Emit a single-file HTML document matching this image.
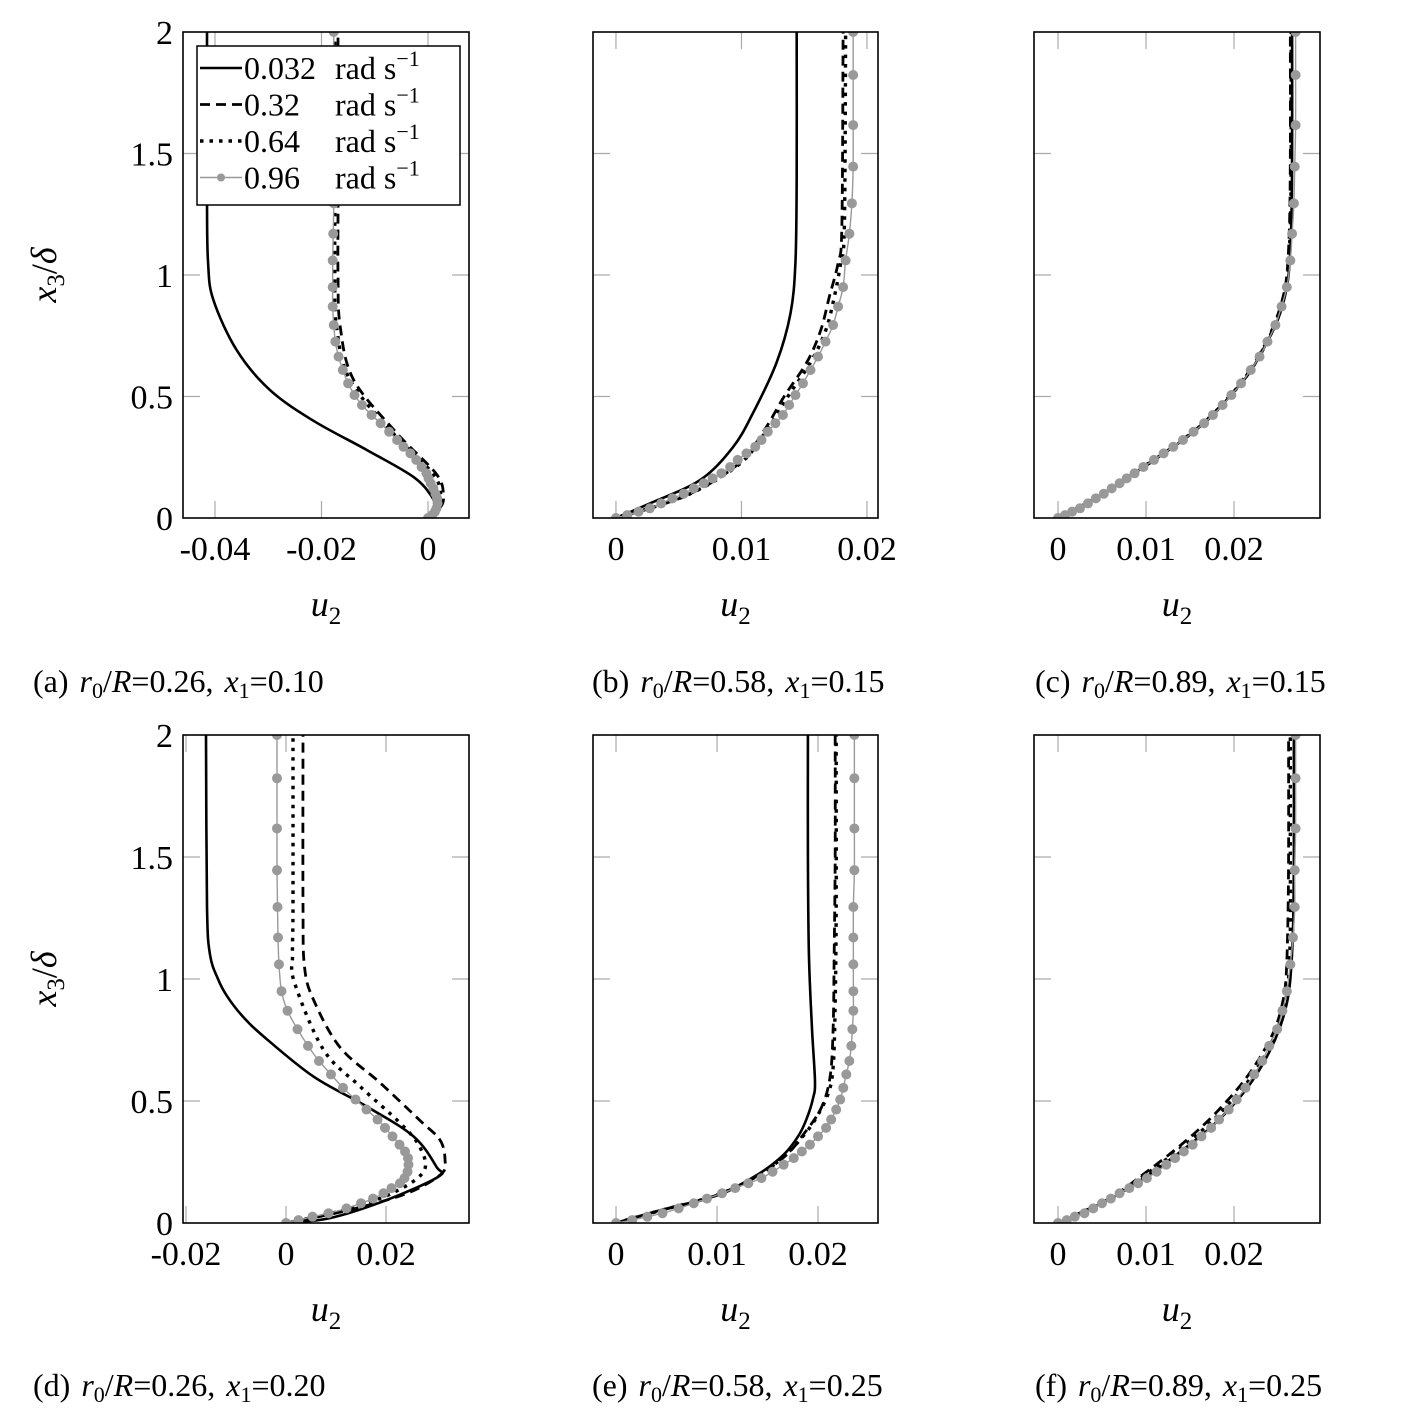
<!DOCTYPE html>
<html><head><meta charset="utf-8"><style>
html,body{margin:0;padding:0;background:#fff;}
svg{display:block;font-family:"Liberation Serif","DejaVu Serif",serif;}
</style></head><body>
<svg id="fig" width="1422" height="1422" viewBox="0 0 1422 1422" xmlns="http://www.w3.org/2000/svg"></svg>
<script>
// ---------- DATA ----------
const grayX3 = [0,0.012,0.026,0.04,0.06,0.081,0.10,0.122,0.143,0.163,0.184,0.21,0.239,0.266,0.293,0.321,0.355,0.39,0.424,0.465,0.506,0.554,0.609,0.664,0.726,0.794,0.87,0.95,1.06,1.17,1.295,1.446,1.617,1.823,2.0];

const aSolidX3 = [0,0.04,0.088,0.17,0.28,0.4,0.527,0.69,0.897,1.05,1.3,2];
const aSolidU  = [0,0.0012,0.0007,-0.0028,-0.0115,-0.0215,-0.0297,-0.0359,-0.0403,-0.0413,-0.0415,-0.0415];
const aDashX3  = [0,0.04,0.088,0.18,0.35,0.57,0.79,1.0,1.3,2];
const aDashU   = [0,0.0022,0.0029,0.0016,-0.0059,-0.014,-0.0165,-0.0169,-0.0169,-0.0169];
const aDotU    = [0,0.0018,0.0024,0.001,-0.0066,-0.0147,-0.0172,-0.0175,-0.0175,-0.0175];
const aGrayU   = [0,0.0008,0.0013,0.0016,0.0018,0.0017,0.0014,0.001,0.0005,0.0001,-0.0003,-0.0012,-0.0022,-0.0033,-0.0046,-0.0058,-0.0073,-0.0089,-0.0106,-0.0124,-0.0138,-0.015,-0.016,-0.0168,-0.0174,-0.0177,-0.0179,-0.0179,-0.0179,-0.0178,-0.0177,-0.0177,-0.0177,-0.0177,-0.0177];

const bSolidX3 = [0,0.06,0.156,0.29,0.43,0.64,0.84,1.05,1.4,2];
const bSolidU  = [0,0.0027,0.0067,0.0093,0.0109,0.0128,0.0139,0.0143,0.0144,0.0144];
const bDashX3  = [0,0.09,0.22,0.36,0.5,0.64,0.77,0.91,1.05,1.2,2];
const bDashU   = [0,0.0055,0.0097,0.0118,0.0134,0.0152,0.0163,0.017,0.0177,0.018,0.0181];
const bDotU    = [0,0.0055,0.0098,0.012,0.0137,0.0155,0.0167,0.0174,0.0179,0.0182,0.0183];
const bGrayU   = [0,0.0009,0.0018,0.0027,0.0036,0.0045,0.0054,0.0062,0.0070,0.0077,0.0084,0.0091,0.0097,0.0104,0.0111,0.0116,0.0121,0.0127,0.0133,0.0138,0.0143,0.0149,0.0155,0.0161,0.0167,0.0173,0.0177,0.0181,0.0183,0.0186,0.0188,0.0189,0.0189,0.0189,0.0189];

const cLineX3  = [0,0.1,0.2,0.3,0.4,0.5,0.6,0.7,0.8,0.9,1.0,1.2,1.5,2];
const cSolidU  = [0,0.0052,0.0093,0.0134,0.0169,0.0195,0.0218,0.0234,0.0248,0.0257,0.0262,0.0265,0.0266,0.0266];
const cDashU   = [0,0.0051,0.0092,0.0133,0.0168,0.0194,0.0216,0.0233,0.0246,0.0255,0.026,0.0263,0.0264,0.0264];
const cDotU    = [0,0.0052,0.0093,0.0134,0.0168,0.0195,0.0217,0.0234,0.0247,0.0256,0.0261,0.0264,0.0265,0.0265];
const cGrayU   = [0,0.0008,0.0016,0.0025,0.0034,0.0043,0.0052,0.0061,0.007,0.0078,0.0087,0.0097,0.0109,0.012,0.0131,0.0142,0.0154,0.0166,0.0176,0.0187,0.0197,0.0208,0.0219,0.0229,0.0238,0.0247,0.0254,0.026,0.0264,0.0266,0.0268,0.0269,0.027,0.027,0.027];

const dSolidX3 = [0,0.02,0.094,0.19,0.23,0.355,0.478,0.6,0.765,0.85,0.93,1.0,1.1,1.3,2];
const dSolidU  = [0,0.0088,0.0201,0.0305,0.0301,0.0255,0.0161,0.0055,-0.0045,-0.0088,-0.0118,-0.0136,-0.0152,-0.0158,-0.016];
const dDashX3  = [0,0.05,0.12,0.2,0.26,0.34,0.42,0.575,0.72,0.915,1.05,1.3,2];
const dDashU   = [0,0.012,0.024,0.031,0.0318,0.0308,0.0268,0.0188,0.0108,0.0055,0.0037,0.0034,0.0034];
const dDotX3   = [0,0.05,0.12,0.21,0.31,0.41,0.56,0.71,0.985,1.1,1.3,2];
const dDotU    = [0,0.011,0.021,0.0275,0.0268,0.0228,0.0148,0.0075,0.0017,0.0013,0.0014,0.0014];
const dGrayU   = [0,0.0025,0.0053,0.0085,0.0121,0.015,0.0174,0.0195,0.0211,0.0228,0.0237,0.0243,0.0245,0.0244,0.0238,0.0227,0.0213,0.0198,0.0183,0.0161,0.0139,0.0114,0.009,0.0066,0.0044,0.0023,0.0003,-0.0009,-0.0014,-0.0016,-0.0017,-0.0018,-0.0018,-0.0018,-0.0018];

const eSolidX3 = [0,0.048,0.115,0.198,0.28,0.36,0.43,0.51,0.58,0.8,1.1,1.5,2];
const eSolidU  = [0,0.004,0.01,0.014,0.0166,0.0181,0.0189,0.0195,0.0197,0.0194,0.0191,0.019,0.019];
const eDashX3  = [0,0.048,0.115,0.198,0.28,0.36,0.47,0.6,0.8,1.1,1.5,2];
const eDashU   = [0,0.0041,0.0101,0.0142,0.0169,0.0185,0.0203,0.0212,0.0215,0.0216,0.0217,0.0217];
const eDotX3   = [0,0.048,0.115,0.198,0.28,0.36,0.43,0.53,0.64,0.9,1.3,2];
const eDotU    = [0,0.0041,0.01,0.0142,0.0168,0.0186,0.0198,0.021,0.0215,0.0217,0.0218,0.0218];
const eGrayU   = [0,0.0016,0.0031,0.0046,0.0062,0.0077,0.009,0.0105,0.0118,0.0131,0.0144,0.0155,0.0166,0.0176,0.0184,0.0192,0.02,0.0208,0.0213,0.0218,0.0222,0.0225,0.0228,0.0231,0.0233,0.0234,0.0235,0.0235,0.0235,0.0235,0.0235,0.0236,0.0236,0.0236,0.0236];

const fLineX3  = [0,0.1,0.2,0.3,0.4,0.5,0.6,0.7,0.8,0.9,1.0,1.2,1.5,2];
const fSolidU  = [0,0.006,0.0104,0.0142,0.0176,0.0203,0.0224,0.024,0.0252,0.026,0.0264,0.0267,0.0268,0.0268];
const fDashU   = [0,0.0058,0.0097,0.0133,0.0165,0.0192,0.0215,0.0233,0.0247,0.0255,0.0259,0.0261,0.0262,0.0262];
const fDotU    = [0,0.0058,0.01,0.0137,0.017,0.0197,0.022,0.0237,0.025,0.0258,0.0262,0.0264,0.0264,0.0264];
const fGrayU   = [0,0.001,0.0019,0.003,0.004,0.005,0.006,0.007,0.0081,0.0091,0.0101,0.0112,0.0123,0.0133,0.0143,0.0153,0.0163,0.0174,0.0183,0.0194,0.0203,0.0213,0.0223,0.0232,0.024,0.0249,0.0255,0.026,0.0264,0.0267,0.0269,0.0269,0.027,0.027,0.027];

const yTicks = [0,0.5,1,1.5,2];
const yTickLabels = ["0","0.5","1","1.5","2"];
const aXTicks = [-0.04,-0.02,0];   const aXLabels = ["-0.04","-0.02","0"];
const bXTicks = [0,0.01,0.02];     const bXLabels = ["0","0.01","0.02"];
const dXTicks = [-0.02,0,0.02];    const dXLabels = ["-0.02","0","0.02"];
const legendLabels = ["0.032","0.32","0.64","0.96"];
const captionParts = [["a","0.26","0.10"],["b","0.58","0.15"],["c","0.89","0.15"],["d","0.26","0.20"],["e","0.58","0.25"],["f","0.89","0.25"]];

// ---------- DRAW ----------
const NS="http://www.w3.org/2000/svg";
const svg=document.getElementById('fig');
function mk(tag,attrs,parent){const e=document.createElementNS(NS,tag);for(const k in attrs)e.setAttribute(k,attrs[k]);(parent||svg).appendChild(e);return e;}

function pathD(pts){
  if(pts.length<2)return "";
  let d="M"+pts[0][0].toFixed(2)+","+pts[0][1].toFixed(2);
  for(let i=0;i<pts.length-1;i++){
    const p0=pts[Math.max(0,i-1)],p1=pts[i],p2=pts[i+1],p3=pts[Math.min(pts.length-1,i+2)];
    const t=0.5/3;
    const c1=[p1[0]+(p2[0]-p0[0])*t,p1[1]+(p2[1]-p0[1])*t];
    const c2=[p2[0]-(p3[0]-p1[0])*t,p2[1]-(p3[1]-p1[1])*t];
    d+=" C"+c1[0].toFixed(2)+","+c1[1].toFixed(2)+" "+c2[0].toFixed(2)+","+c2[1].toFixed(2)+" "+p2[0].toFixed(2)+","+p2[1].toFixed(2);
  }
  return d;
}

const panels=[
 {id:"a",L:183,R:469,T:32,B:518,xmin:-0.04601,xmax:0.0077,ticks:aXTicks,labels:aXLabels,
  series:[[aSolidX3,aSolidU,"solid"],[aDashX3,aDashU,"dash"],[aDashX3,aDotU,"dot"],[grayX3,aGrayU,"gray"]],ylab:true},
 {id:"b",L:593,R:878,T:32,B:518,xmin:-0.00183,xmax:0.02088,ticks:bXTicks,labels:bXLabels,
  series:[[bSolidX3,bSolidU,"solid"],[bDashX3,bDashU,"dash"],[bDashX3,bDotU,"dot"],[grayX3,bGrayU,"gray"]]},
 {id:"c",L:1034,R:1320,T:32,B:518,xmin:-0.00273,xmax:0.02977,ticks:bXTicks,labels:bXLabels,
  series:[[cLineX3,cSolidU,"solid"],[cLineX3,cDashU,"dash"],[cLineX3,cDotU,"dot"],[grayX3,cGrayU,"gray"]]},
 {id:"d",L:183,R:469,T:735,B:1223,xmin:-0.0206,xmax:0.0366,ticks:dXTicks,labels:dXLabels,
  series:[[dSolidX3,dSolidU,"solid"],[dDashX3,dDashU,"dash"],[dDotX3,dDotU,"dot"],[grayX3,dGrayU,"gray"]],ylab:true},
 {id:"e",L:593,R:878,T:735,B:1223,xmin:-0.00228,xmax:0.02594,ticks:bXTicks,labels:bXLabels,
  series:[[eSolidX3,eSolidU,"solid"],[eDashX3,eDashU,"dash"],[eDotX3,eDotU,"dot"],[grayX3,eGrayU,"gray"]]},
 {id:"f",L:1034,R:1320,T:735,B:1223,xmin:-0.00273,xmax:0.02977,ticks:bXTicks,labels:bXLabels,
  series:[[fLineX3,fSolidU,"solid"],[fLineX3,fDashU,"dash"],[fLineX3,fDotU,"dot"],[grayX3,fGrayU,"gray"]]}
];
const styles={
 solid:{stroke:"#000","stroke-width":2.6,fill:"none"},
 dash:{stroke:"#000","stroke-width":2.8,fill:"none","stroke-dasharray":"10 6"},
 dot:{stroke:"#000","stroke-width":3.4,fill:"none","stroke-dasharray":"3.5 6"},
 gray:{stroke:"#999","stroke-width":1.4,fill:"none"}
};
const seriesNames={solid:"0.032",dash:"0.32",dot:"0.64",gray:"0.96"};

panels.forEach((p,pi)=>{
  const g=mk('g',{});
  
  
  const sx=u=>p.L+(u-p.xmin)/(p.xmax-p.xmin)*(p.R-p.L);
  const sy=v=>p.B-v/2*(p.B-p.T);
  const cp=mk('clipPath',{id:'clip'+p.id},g);
  mk('rect',{x:p.L,y:p.T,width:p.R-p.L,height:p.B-p.T},cp);
  yTicks.forEach((t,i)=>{
    const y=sy(t);
    if(t>0&&t<2){
      const l1=mk('line',{x1:p.L,y1:y,x2:p.L+17,y2:y,stroke:"#aaa","stroke-width":1.2},g);
      
      
      const l2=mk('line',{x1:p.R-17,y1:y,x2:p.R,y2:y,stroke:"#aaa","stroke-width":1.2},g);
      
      
    }
    if(p.ylab){
      const tx=mk('text',{x:p.L-10,y:y+12,"text-anchor":"end","font-size":34},g);
      tx.textContent=yTickLabels[i];
      
      
    }
  });
  p.ticks.forEach((t,i)=>{
    const x=sx(t);
    const l1=mk('line',{x1:x,y1:p.B,x2:x,y2:p.B-17,stroke:"#aaa","stroke-width":1.2},g);
    
    
    const l2=mk('line',{x1:x,y1:p.T,x2:x,y2:p.T+17,stroke:"#aaa","stroke-width":1.2},g);
    
    
    const tx=mk('text',{x:x,y:p.B+42,"text-anchor":"middle","font-size":34},g);
    tx.textContent=p.labels[i];
    
    
  });
  const sg=mk('g',{"clip-path":"url(#clip"+p.id+")"},g);
  p.series.forEach(s=>{
    const pts=s[0].map((v,i)=>[sx(s[1][i]),sy(v)]);
    const path=mk('path',Object.assign({d:pathD(pts)},styles[s[2]]),sg);
    
    
    if(s[2]==="gray"){
      pts.forEach(q=>{
        const c=mk('circle',{cx:q[0],cy:q[1],r:5,fill:"#999"},sg);
        
        
      });
    }
  });
  const fr=mk('rect',{x:p.L,y:p.T,width:p.R-p.L,height:p.B-p.T,fill:"none",stroke:"#000","stroke-width":1.6},g);
  
  
  const xt=mk('text',{x:(p.L+p.R)/2,y:p.B+98,"text-anchor":"middle","font-size":36,"font-style":"italic"},g);
  xt.innerHTML='u<tspan font-size="25" font-style="normal" dy="8">2</tspan>';
  
  
  if(p.ylab){
    const cy=(p.T+p.B)/2;
    const yt=mk('text',{x:0,y:0,"text-anchor":"middle","font-size":36,"font-style":"italic",transform:"translate(56,"+cy+") rotate(-90)"},g);
    yt.innerHTML='x<tspan font-size="25" font-style="normal" dy="8">3</tspan><tspan dy="-8" font-style="normal">/</tspan>δ';
    
    
  }
  const cpart=captionParts[pi];
  const capX=[33,592,1035][pi%3];
  const capY=pi<3?692:1396;
  const ct=mk('text',{x:capX,y:capY,"font-size":32,"word-spacing":"3"},g);
  ct.innerHTML='('+cpart[0]+') <tspan font-style="italic">r</tspan><tspan font-size="22" dy="6">0</tspan><tspan dy="-6">/</tspan><tspan font-style="italic">R</tspan>='+cpart[1]+', <tspan font-style="italic">x</tspan><tspan font-size="22" dy="6">1</tspan><tspan dy="-6">=</tspan>'+cpart[2];
  
  
});

// legend
const lg=mk('g',{});


const lb=mk('rect',{x:197,y:46,width:263,height:159,fill:"#fff",stroke:"#000","stroke-width":1.5},lg);


const legKeys=["solid","dash","dot","gray"];
legendLabels.forEach((lab,i)=>{
  const y=68+i*36.5;
  const ln=mk('line',Object.assign({x1:200,y1:y,x2:242,y2:y},styles[legKeys[i]]),lg);
  
  
  if(legKeys[i]==="gray"){
    const c=mk('circle',{cx:221,cy:y,r:4,fill:"#999"},lg);
    
    
  }
  const t1=mk('text',{x:244,y:y+11,"font-size":32},lg);
  t1.textContent=lab;
  
  
  const t2=mk('text',{x:335,y:y+11,"font-size":32},lg);
  t2.innerHTML='rad s<tspan font-size="22" dy="-13">−1</tspan>';
  
  
});
</script>
</body></html>
